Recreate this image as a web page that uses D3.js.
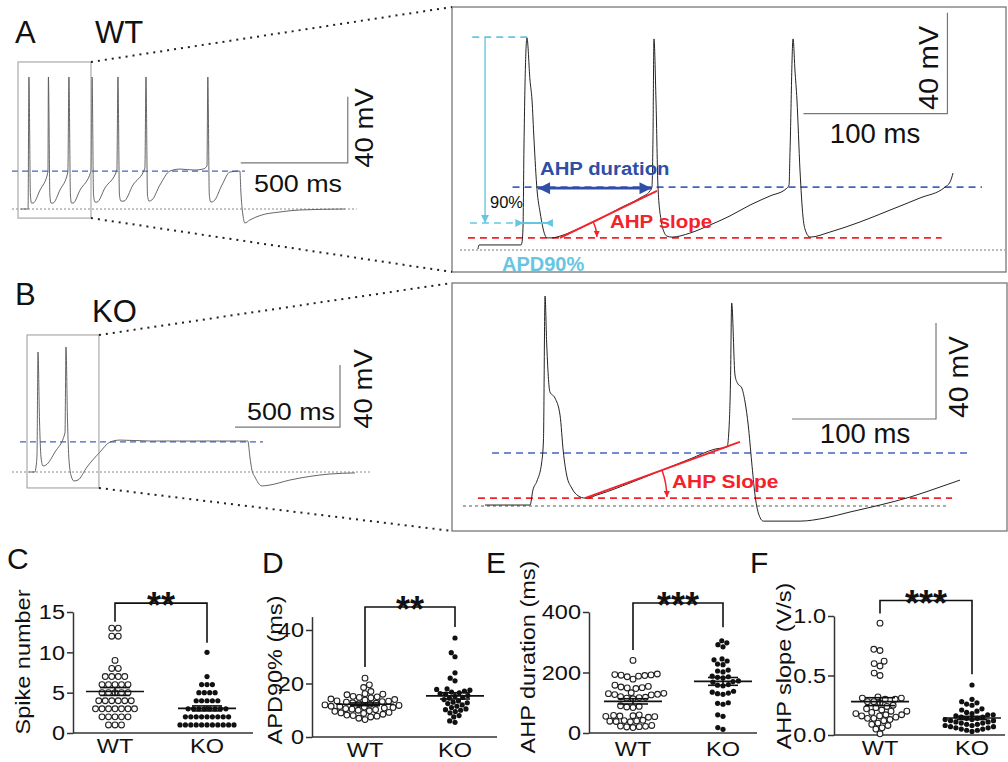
<!DOCTYPE html>
<html>
<head>
<meta charset="utf-8">
<script src="https://cdn.jsdelivr.net/npm/d3@7"></script>
<style>
  body { margin: 0; background: #fff; }
  svg { display: block; font-family: "Liberation Sans", Arial, sans-serif; }
</style>
</head>
<body>
<svg id="fig" width="1008" height="762"></svg>
<script>
'use strict';
// ---- recordings, [time ms, membrane potential mV] ----
var wtTrainTrace = [
  [0,-65],[33,-65],[37,15],[44,-56.5],[49,-61.4],[56,-61.4],[89,-53.5],[126,-42.6],
  [128,15],[135,-56.5],[140,-61.4],[149,-61.4],[182,-53.5],[219,-42.6],
  [224,15],[231,-56.5],[236,-61.4],[243,-61.4],[276,-53.5],[327,-42],
  [332,15],[339,-56.5],[346,-60.8],[355,-60.8],[392,-52.3],[448,-41.4],
  [453,15],[460,-56.5],[467,-60.2],[481,-60.2],[523,-50.5],[579,-40.2],
  [584,15],[591,-56.5],[598,-60.2],[612,-59.5],[649,-50.5],[696,-42],[743,-40.8],[813,-41.4],[850,-40.8],[869,-39],
  [873,15],[880,-56.5],[887,-60.8],[901,-60.2],[939,-50.5],[976,-42.6],[1023,-42],
  [1027,-53.5],[1037,-68.6],[1046,-73.5],[1069,-71.7],[1116,-69],[1210,-66.8],[1303,-65.6],[1513,-65]
];
var koTrainTrace = [
  [0,-65],[28.6,-65],[33.3,-61.8],[38.1,-54],[42.8,12.4],[50,-31.5],[57.1,-55.3],[66.6,-61.1],[81,-60.5],[123.8,-52.1],[171.4,-39.8],
  [176.1,15.6],[183.3,-31.5],[190.4,-57.3],[202.3,-68.2],[214.2,-70.8],[233.2,-70.2],[276.1,-61.8],[337.9,-52.1],[385.6,-45.7],[433.2,-44.4],
  [576,-45],[814,-45],[1042,-45],[1052,-55.3],[1061.5,-63.7],[1075.8,-68.2],[1109,-74],[1147,-73.4],[1242,-70.2],[1433,-66.3],[1552,-65.6]
];
var wtZoomTrace = [
  [0,-64.6],[0.7,-63],[29.9,-63],[30.6,-61.8],[31.3,-55.1],[31.9,-25.4],[34,19],[36.1,2.3],[37.5,-5.6],[38.9,-21.4],[41,-41.2],[43.1,-50],[45.1,-56.3],[47.9,-60.2],
  [51.4,-60.2],[56.9,-59.5],[70.8,-56.3],[84.7,-52.7],[98.6,-48.4],[112.5,-44.4],[119.4,-41.6],[120.8,-40.1],[121.5,-21.4],[122.2,18.6],[123.6,-5.6],[125,-40.1],[127.1,-53.1],[129.2,-57.9],[131.2,-59.5],[134.7,-59.9],
  [147.2,-58.3],[161.1,-55.1],[175,-51.5],[188.9,-47.2],[202.8,-43.6],[213.9,-40.8],[216,-39.3],[216.7,-25.4],[218.8,18.6],[220.1,6.3],[221.5,-5.6],[223.6,-33.3],[225.7,-51.9],[227.8,-57.9],[230.6,-59.9],
  [244.4,-57.9],[265.3,-53.9],[286.1,-49.2],[306.9,-44.4],[324.3,-40.1],[327.8,-38.1],[329.9,-34.5]
];
var koZoomTrace = [
  [0,-64.6],[31.3,-64.6],[33.3,-58.3],[36.1,-54.6],[39.4,-46.7],[40.6,-37.5],[41.7,22.5],[42.8,3.3],[45.1,-17.5],[48.6,-20],[52.1,-27.1],[54.4,-42.5],[56.7,-52.1],[60.2,-57.5],[64.8,-60.8],[69.4,-61.7],
  [79.9,-60],[100.7,-55.4],[121.5,-50.4],[142.4,-45.4],[159.7,-41.3],[168.1,-40.4],[169.4,-33.3],[170.5,-12.5],[171.3,19.6],[173.6,-10.4],[175.3,-13.8],[178.3,-15.8],[180.6,-21.7],[182.8,-31.3],[185.2,-46.7],[187.5,-60.4],[189.8,-67.9],[193.3,-71.3],
  [218.8,-71.3],[236.1,-70],[253.5,-67.5],[274.3,-64.6],[295.1,-61.3],[316,-57.1],[329.9,-54.2]
];

// ---- group data for the scatter panels ----
var groups = ["WT", "KO"];
var spikeWT = [13,13,12,12,9,8,8,7,7,7,7,6,6,6,6,6,5,5,5,5,5,4,4,4,4,4,4,3,3,3,3,3,3,3,2,2,2,2,2,1,1,1];
var spikeKO = [10,7,6,6,6,5,5,5,5,4,4,4,4,4,3,3,3,3,3,3,3,3,2,2,2,2,2,2,2,2,2,1,1,1,1,1,1,1,1,1,1,1];
var apdWT = [22,19.5,18.5,17,16.2,15.8,16,15.2,14.8,15,14.6,14,13.8,14.2,13.5,13.2,13,12.8,13.4,12.6,12.2,12,11.8,12.4,11.5,11.2,11,10.8,11.4,10.6,10.4,10,9.8,10.2,9.6,9.2,9,8.8,8.5,8.2,8,7.8,7.5,7,6.5];
var apdKO = [37,31.5,30,24,22,21,18,17.5,17.2,17.8,16.5,16.8,16.2,16,15.5,15.2,14.8,14.5,14,13.5,13,12.8,12.5,12,11.5,11,10.5,10.2,10,9.5,9,8,7.5,6,5.5];
var durWT = [240,195,193,191,190,188,186,192,178,158,154,152,150,149,147,133,131,130,128,127,126,120,118,117,115,113,90,88,86,84,60,58,57,56,55,54,52,42,41,40,39,38,37,25,23,22,21,20,18];
var durKO = [305,298,292,285,245,242,238,228,226,208,205,202,188,186,184,182,172,170,168,160,158,156,138,135,132,130,128,100,98,95,60,55,18,12];
var slopeWT = [0.94,0.72,0.71,0.62,0.6,0.58,0.52,0.5,0.32,0.31,0.31,0.3,0.3,0.28,0.28,0.27,0.25,0.24,0.23,0.22,0.21,0.2,0.2,0.19,0.18,0.17,0.17,0.16,0.16,0.15,0.14,0.14,0.13,0.12,0.1,0.09,0.08,0.06,0.05,0.01];
var slopeKO = [0.42,0.3,0.28,0.27,0.26,0.25,0.22,0.21,0.2,0.19,0.18,0.17,0.17,0.16,0.15,0.15,0.14,0.14,0.13,0.13,0.12,0.12,0.11,0.11,0.1,0.1,0.09,0.09,0.08,0.08,0.07,0.07,0.06,0.06,0.05,0.05,0.04,0.04,0.03];
var spikeTicks = [0, 5, 10, 15];
var apdTicks = [0, 20, 40];
var durTicks = [0, 200, 400];
var slopeTicks = [0, 0.5, 1.0];

var BLUE = "#4563c0", RED = "#f5222a", CYAN = "#66c6e2", ARROWBLUE = "#2f4ea6";
var svg = d3.select("#fig");

// markers
var defs = svg.append("defs");
[["arrBlue", ARROWBLUE, 15, 12], ["arrCyan", CYAN, 8, 8], ["arrRed", RED, 6, 6]].forEach(function (m) {
  defs.append("marker").attr("id", m[0]).attr("viewBox", "0 0 10 10")
    .attr("refX", 10).attr("refY", 5).attr("markerUnits", "userSpaceOnUse")
    .attr("markerWidth", m[2]).attr("markerHeight", m[3]).attr("orient", "auto-start-reverse")
    .append("path").attr("d", "M0,0L10,5L0,10z").attr("fill", m[1]);
});

function addText(g, s, x, y, o) {
  o = o || {};
  return g.append("text")
    .attr("transform", "translate(" + x + "," + y + ")" + (o.rot ? " rotate(" + o.rot + ")" : "") + " scale(" + (o.sx || 1) + ",1)")
    .attr("font-size", o.size || 20)
    .attr("font-weight", o.bold ? "bold" : null)
    .attr("text-anchor", o.anchor || "start")
    .attr("fill", o.fill || "#111")
    .text(s);
}

function seg(g, x1, y1, x2, y2, stroke, width, dash) {
  return g.append("line").attr("x1", x1).attr("y1", y1).attr("x2", x2).attr("y2", y2)
    .attr("stroke", stroke).attr("stroke-width", width).attr("stroke-dasharray", dash || null);
}

// ---- trace panel ----
function tracePanel(cfg) {
  var g = svg.append("g");
  var x = d3.scaleLinear().domain([0, 100]).range([cfg.x0, cfg.x0 + cfg.pxPer100ms]);
  var y = d3.scaleLinear().domain([-65, -25]).range([cfg.y0, cfg.y0 - cfg.pxPer40mV]);

  (cfg.hlines || []).forEach(function (h) {
    seg(g, x(h.t0), y(h.v), x(h.t1), y(h.v), h.color, h.w, h.dash);
  });

  var line = d3.line().x(function (d) { return x(d[0]); }).y(function (d) { return y(d[1]); })
    .curve(d3.curveMonotoneX);
  g.append("path").datum(cfg.data).attr("d", line)
    .attr("fill", "none").attr("stroke", cfg.color).attr("stroke-width", cfg.lw);

  // scale bar
  var sb = cfg.bar;
  g.append("path")
    .attr("d", "M" + x(sb.t0) + "," + y(sb.v0) + "H" + x(sb.t1) + "V" + y(sb.v0 + 40))
    .attr("fill", "none").attr("stroke", "#777").attr("stroke-width", 1.2);

  if (cfg.inset) {
    var b = cfg.inset;
    g.append("rect").attr("x", x(b.t0)).attr("y", y(b.v1))
      .attr("width", x(b.t1) - x(b.t0)).attr("height", y(b.v0) - y(b.v1))
      .attr("fill", "none").attr("stroke", "#999").attr("stroke-width", 1);
  }
  return { g: g, x: x, y: y };
}

// ---- A: WT train ----
var insetA = { t0: -14, t1: 327, v0: -70.5, v1: 24.1 };
var aL = tracePanel({
  x0: 21, pxPer100ms: 21.4, y0: 209, pxPer40mV: 66, data: wtTrainTrace, color: "#555", lw: 0.9,
  hlines: [
    { t0: -42, t1: 1569, v: -65, color: "#888", w: 1, dash: "2,2" },
    { t0: -42, t1: 1046, v: -42, color: BLUE, w: 1.2, dash: "6,4" }
  ],
  bar: { t0: 1027, t1: 1527, v0: -37 },
  inset: insetA
});
addText(svg, "A", 15, 43, { size: 31 });
addText(svg, "WT", 95, 43, { size: 31 });
addText(svg, "500 ms", 298, 192, { size: 24, anchor: "middle", sx: 1.12 });
addText(svg, "40 mV", 373, 128, { size: 25, anchor: "middle", rot: -90, sx: 1.1 });

// ---- B: KO train ----
var insetB = { t0: -9.5, t1: 333, v0: -75.3, v1: 23.4 };
var bL = tracePanel({
  x0: 29, pxPer100ms: 21, y0: 472, pxPer40mV: 62, data: koTrainTrace, color: "#555", lw: 0.9,
  hlines: [
    { t0: -81, t1: 1623, v: -65, color: "#888", w: 1, dash: "2,2" },
    { t0: -43, t1: 1114, v: -45.6, color: BLUE, w: 1.2, dash: "6,4" }
  ],
  bar: { t0: 981, t1: 1481, v0: -36 },
  inset: insetB
});
addText(svg, "B", 15, 305, { size: 31 });
addText(svg, "KO", 92, 322, { size: 31 });
addText(svg, "500 ms", 291, 420, { size: 24, anchor: "middle", sx: 1.12 });
addText(svg, "40 mV", 372, 389, { size: 25, anchor: "middle", rot: -90, sx: 1.1 });

// ---- zoomed frames ----
var frameA = { x: 452, y: 7, w: 554, h: 265 };
var frameB = { x: 452, y: 283, w: 555, h: 248 };
[frameA, frameB].forEach(function (f) {
  svg.append("rect").attr("x", f.x).attr("y", f.y).attr("width", f.w).attr("height", f.h)
    .attr("fill", "none").attr("stroke", "#777").attr("stroke-width", 1.3);
});
// connectors from insets
[[aL, insetA, frameA], [bL, insetB, frameB]].forEach(function (c) {
  var p = c[0], b = c[1], f = c[2];
  seg(svg, p.x(b.t1), p.y(b.v1), f.x, f.y, "#222", 2, "2,5");
  seg(svg, p.x(b.t1), p.y(b.v0), f.x, f.y + f.h, "#222", 2, "2,5");
});

// ---- A zoom ----
var aR = tracePanel({
  x0: 478, pxPer100ms: 144, y0: 250, pxPer40mV: 101, data: wtZoomTrace, color: "#222", lw: 1,
  hlines: [
    { t0: -12.5, t1: 366, v: -65, color: "#777", w: 1, dash: "2,2" },
    { t0: -7, t1: 322, v: -60.2, color: RED, w: 1.8, dash: "7,5" },
    { t0: 24, t1: 350, v: -40.1, color: BLUE, w: 1.6, dash: "7,5" },
    { t0: -4, t1: 36, v: 19.3, color: CYAN, w: 1.6, dash: "7,5" },
    { t0: -5.6, t1: 31, v: -54.3, color: CYAN, w: 1.6, dash: "7,5" }
  ],
  bar: { t0: 226, t1: 326, v0: -11 }
});
(function () {
  var x = aR.x, y = aR.y, g = aR.g;
  // APD90 markers
  seg(g, x(4.9), y(19.3), x(4.9), y(-54.3), CYAN, 1.4).attr("marker-end", "url(#arrCyan)");
  seg(g, x(26.5), y(-54.3), x(31.5), y(-54.3), CYAN, 2).attr("marker-end", "url(#arrCyan)");
  seg(g, x(31.5), y(-54.3), x(46.5), y(-54.3), CYAN, 2);
  seg(g, x(51.5), y(-54.3), x(46.5), y(-54.3), CYAN, 2).attr("marker-end", "url(#arrCyan)");
  // AHP duration
  seg(g, x(41.7), y(-40.5), x(120.5), y(-40.5), ARROWBLUE, 2.8)
    .attr("marker-start", "url(#arrBlue)").attr("marker-end", "url(#arrBlue)");
  // AHP slope
  var p0 = [x(56.9), y(-60.2)], p1 = [x(124.3), y(-41.6)];
  seg(g, p0[0], p0[1], p1[0], p1[1], RED, 2);
  var r = 37, ang = Math.atan2(p0[1] - p1[1], p1[0] - p0[0]);
  g.append("path")
    .attr("d", "M" + (p0[0] + r * Math.cos(ang)) + "," + (p0[1] - r * Math.sin(ang)) +
      "A" + r + "," + r + " 0 0 1 " + (p0[0] + r) + "," + (p0[1] - 1))
    .attr("fill", "none").attr("stroke", RED).attr("stroke-width", 1.5).attr("marker-end", "url(#arrRed)");
})();
addText(svg, "AHP duration", 540, 175, { size: 18, bold: true, fill: ARROWBLUE, sx: 1.13 });
addText(svg, "AHP slope", 610, 228, { size: 19, bold: true, fill: RED, sx: 1.08 });
addText(svg, "90%", 490, 208, { size: 16, sx: 1.03 });
addText(svg, "APD90%", 502, 271, { size: 20, bold: true, fill: CYAN });
addText(svg, "100 ms", 875, 143, { size: 27, anchor: "middle", sx: 1.02 });
addText(svg, "40 mV", 938, 68, { size: 27, anchor: "middle", rot: -90, sx: 1.08 });

// ---- B zoom ----
var bR = tracePanel({
  x0: 485, pxPer100ms: 144, y0: 506, pxPer40mV: 96, data: koZoomTrace, color: "#222", lw: 1,
  hlines: [
    { t0: -15.3, t1: 320.8, v: -65, color: "#555", w: 1, dash: "3,3" },
    { t0: -4.9, t1: 324.3, v: -61.7, color: RED, w: 1.6, dash: "7,5" },
    { t0: 4.9, t1: 334.7, v: -42.9, color: BLUE, w: 1.6, dash: "7,5" }
  ],
  bar: { t0: 213.2, t1: 313.2, v0: -28.75 }
});
(function () {
  var x = bR.x, y = bR.y, g = bR.g;
  var p0 = [x(69.4), y(-61.7)], p1 = [x(177), y(-38.3)];
  seg(g, p0[0], p0[1], p1[0], p1[1], RED, 2);
  var r = 82, ang = Math.atan2(p0[1] - p1[1], p1[0] - p0[0]);
  g.append("path")
    .attr("d", "M" + (p0[0] + r * Math.cos(ang)) + "," + (p0[1] - r * Math.sin(ang)) +
      "A" + r + "," + r + " 0 0 1 " + (p0[0] + r) + "," + (p0[1] - 1))
    .attr("fill", "none").attr("stroke", RED).attr("stroke-width", 1.5).attr("marker-end", "url(#arrRed)");
})();
addText(svg, "AHP Slope", 672, 488, { size: 19, bold: true, fill: RED, sx: 1.1 });
addText(svg, "100 ms", 865, 443, { size: 27, anchor: "middle", sx: 1.02 });
addText(svg, "40 mV", 968, 377, { size: 27, anchor: "middle", rot: -90, sx: 1.05 });

// ---- scatter panels ----
function rowsLayout(values, y, cx, step) {
  var out = [];
  d3.group(values, function (v) { return v; }).forEach(function (arr, v) {
    arr.forEach(function (_, i) { out.push({ v: v, y: y(v), x: cx + (i - (arr.length - 1) / 2) * step }); });
  });
  return out;
}
function dodge(values, y, cx, diam) {
  var pts = values.map(function (v) { return { v: v, y: y(v) }; })
    .sort(function (a, b) { return d3.ascending(a.v, b.v); });
  var placed = [];
  pts.forEach(function (p) {
    var blocks = [];
    placed.forEach(function (q) {
      var dy = Math.abs(q.y - p.y);
      if (dy < diam) {
        var w = Math.sqrt(diam * diam - dy * dy);
        blocks.push([q.x - w, q.x + w]);
      }
    });
    var cands = [cx];
    blocks.forEach(function (b) { cands.push(b[0], b[1]); });
    cands.sort(function (a, b) { return Math.abs(a - cx) - Math.abs(b - cx); });
    p.x = cands.find(function (c) {
      return blocks.every(function (b) { return c <= b[0] + 1e-6 || c >= b[1] - 1e-6; });
    });
    placed.push(p);
  });
  return placed;
}

var panels = [
  { letter: "C", lx: 7, ly: 569, title: "Spike number", tx: 30, ty: 662, wt: spikeWT, ko: spikeKO,
    ticks: spikeTicks, fmt: d3.format("d"), dom: [0, 15], rng: [733, 612], ax: 73, axEnd: 253, cx: [115, 207],
    sig: "**", br: [13.8, 16.1, 11.2], rows: true, lbY: 753 },
  { letter: "D", lx: 262, ly: 573, title: "APD90% (ms)", tx: 282, ty: 670, wt: apdWT, ko: apdKO,
    ticks: apdTicks, fmt: d3.format("d"), dom: [0, 45], rng: [737, 616.6], ax: 312, axEnd: 497, cx: [365, 455],
    sig: "**", br: [26.2, 48.6, 41.1], lbY: 757 },
  { letter: "E", lx: 486, ly: 573, title: "AHP duration (ms)", tx: 535, ty: 657, wt: durWT, ko: durKO,
    ticks: durTicks, fmt: d3.format("d"), dom: [0, 400], rng: [733, 612], ax: 589, axEnd: 757, cx: [633, 723],
    sig: "***", br: [274, 430, 350], lbY: 756 },
  { letter: "F", lx: 750, ly: 573, title: "AHP slope (V/s)", tx: 791, ty: 666, wt: slopeWT, ko: slopeKO,
    ticks: slopeTicks, fmt: d3.format(".1f"), dom: [0, 1], rng: [735, 616], ax: 834, axEnd: 1005, cx: [880, 972],
    sig: "***", br: [1.02, 1.13, 0.51], lbY: 755 }
];

panels.forEach(function (p) {
  var g = svg.append("g");
  var y = d3.scaleLinear().domain(p.dom).range(p.rng);
  var x = d3.scalePoint().domain(groups).range(p.cx);

  var yAxis = g.append("g").attr("transform", "translate(" + p.ax + ",0)")
    .call(d3.axisLeft(y).tickValues(p.ticks).tickFormat(p.fmt).tickSize(6).tickSizeOuter(0).tickPadding(2));
  yAxis.select(".domain").attr("stroke", "#333").attr("stroke-width", 1.5);
  yAxis.selectAll(".tick line").attr("stroke", "#333").attr("stroke-width", 1.5);
  yAxis.selectAll(".tick text").attr("font-size", 21).attr("fill", "#111")
    .attr("font-family", '"Liberation Sans", Arial, sans-serif')
    .each(function () {
      var t = d3.select(this), xx = +t.attr("x");
      t.attr("x", null).attr("transform", "translate(" + xx + ",0) scale(1.12,1)");
    });
  seg(g, p.ax, y(0), p.axEnd, y(0), "#333", 1.5);

  groups.forEach(function (grp) {
    var vals = grp === "WT" ? p.wt : p.ko;
    var open = grp === "WT";
    var pts = p.rows ? rowsLayout(vals, y, x(grp), open ? 6.5 : 5.4)
      : dodge(vals, y, x(grp), open ? 6.3 : 5.5);
    g.selectAll(null).data(pts).enter().append("circle")
      .attr("cx", function (d) { return d.x; }).attr("cy", function (d) { return d.y; })
      .attr("r", open ? 2.9 : 2.6)
      .attr("fill", open ? "#fff" : "#111")
      .attr("stroke", open ? "#222" : "none").attr("stroke-width", 1.1);

    var m = d3.mean(vals), sem = d3.deviation(vals) / Math.sqrt(vals.length);
    var cx = x(grp);
    seg(g, cx - 29, y(m), cx + 29, y(m), "#111", 1.6);
    seg(g, cx - 15, y(m + sem), cx + 15, y(m + sem), "#111", 1.6);
    seg(g, cx - 15, y(m - sem), cx + 15, y(m - sem), "#111", 1.6);
    seg(g, cx, y(m - sem), cx, y(m + sem), "#111", 1.6);

    addText(svg, grp, cx, p.lbY, { size: 21, anchor: "middle", sx: 1.12 });
  });

  // significance bracket
  g.append("path")
    .attr("d", "M" + x("WT") + "," + y(p.br[0]) + "V" + y(p.br[1]) + "H" + x("KO") + "V" + y(p.br[2]))
    .attr("fill", "none").attr("stroke", "#111").attr("stroke-width", 1.6);
  addText(svg, p.sig, (x("WT") + x("KO")) / 2, y(p.br[1]) + 15, { size: 36, bold: true, anchor: "middle" });

  addText(svg, p.letter, p.lx, p.ly, { size: 30 });
  addText(svg, p.title, p.tx, p.ty, { size: 21, anchor: "middle", rot: -90, sx: 1.12 });
});
</script>
</body>
</html>
